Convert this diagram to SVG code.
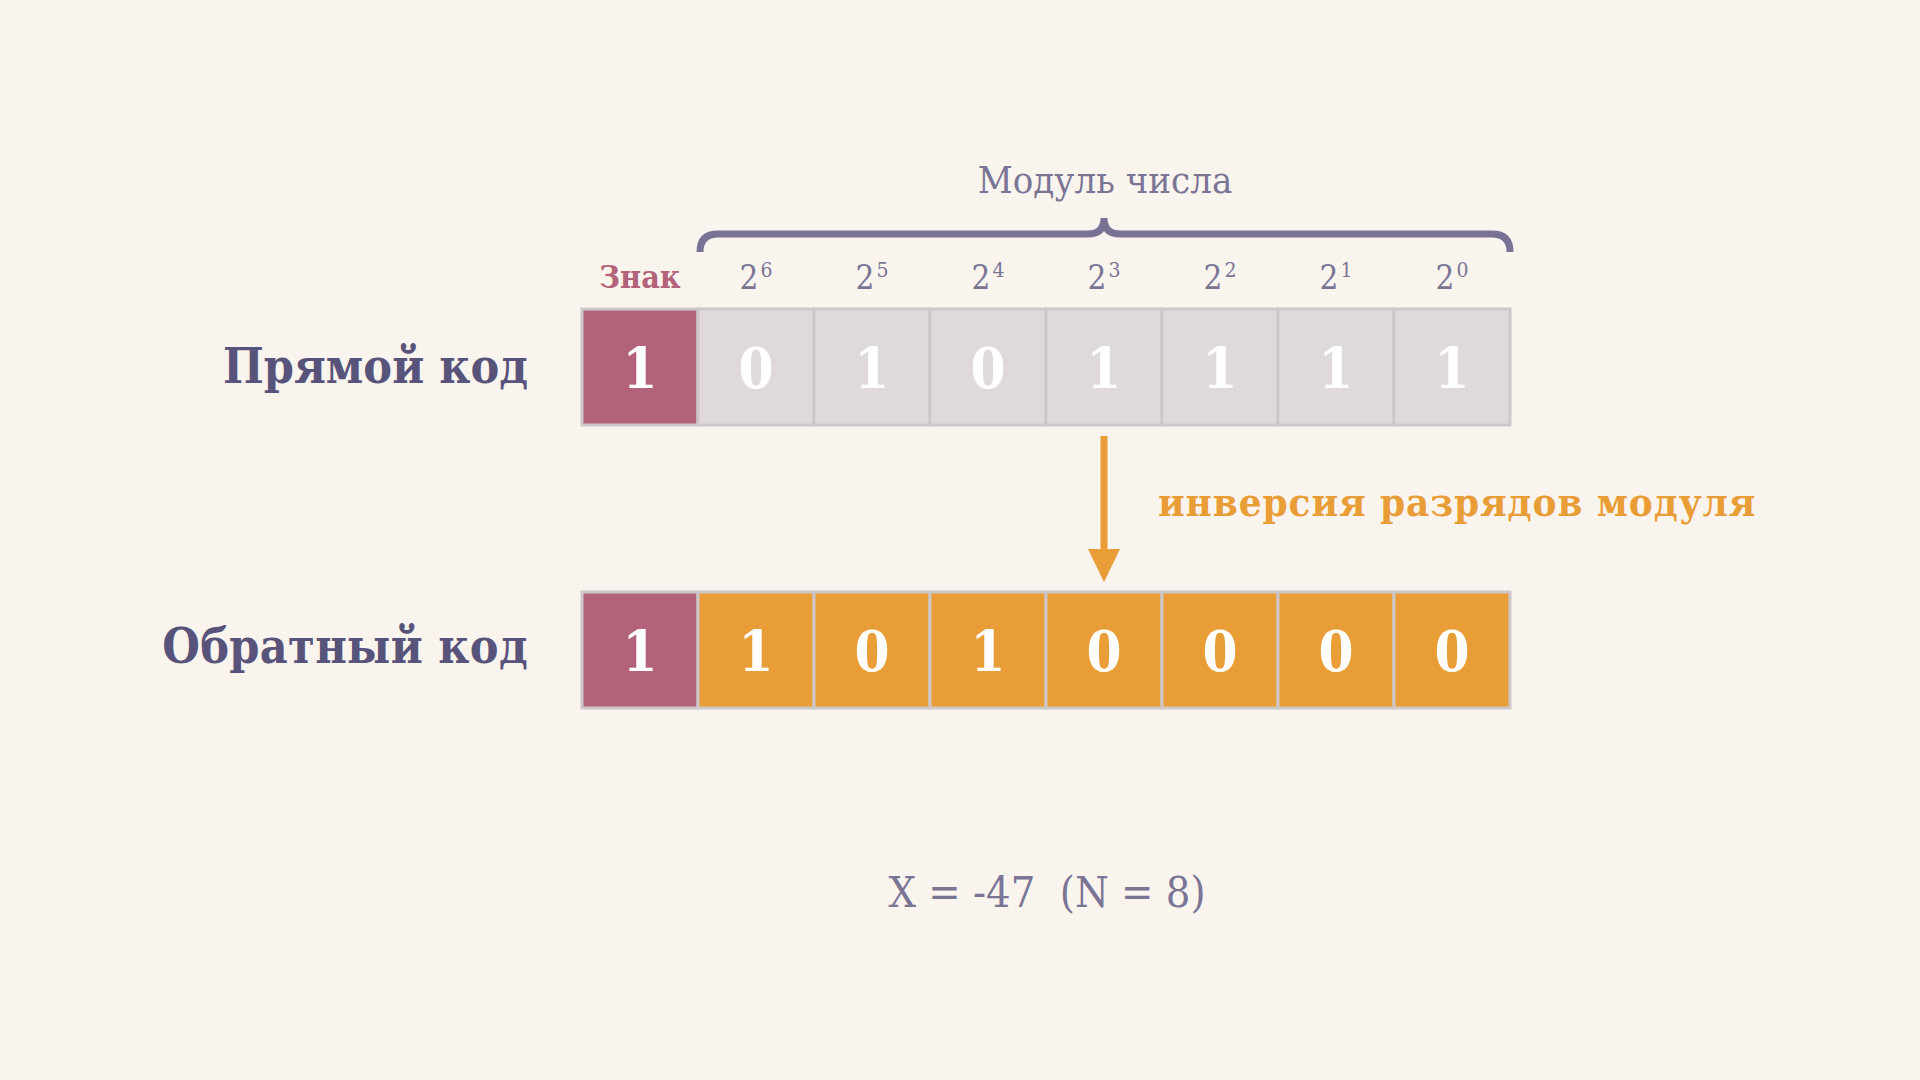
<svg xmlns="http://www.w3.org/2000/svg" width="1920" height="1080" viewBox="0 0 1920 1080">
<style>
text { font-family: "DejaVu Serif Condensed", "DejaVu Serif", "Liberation Serif", serif; font-stretch: condensed; }
.lbl { font-size: 48px; font-weight: bold; fill: #58537a; text-anchor: end; }
.dig { font-size: 56px; font-weight: bold; fill: #ffffff; text-anchor: middle; }
.pow { font-size: 33px; fill: #7a7595; text-anchor: middle; }
.sup { font-size: 21px; }
.sign { fill: #b36379; stroke: #ccc8ca; stroke-width: 3; }
.gray { fill: #dfdad9; stroke: #ccc8ca; stroke-width: 3; }
.orng { fill: #e99d36; stroke: #ccc8ca; stroke-width: 3; }
</style>
<rect x="0" y="0" width="1920" height="1080" fill="#faf4ee"/>

<g id="header">
  <text x="1105" y="193" font-size="38" fill="#7a7595" text-anchor="middle">Модуль числа</text>
  <path d="M700,252 Q700,234 718,234 L1088,234 Q1104,234 1104,218 Q1104,234 1120,234 L1492,234 Q1510,234 1510,252" fill="none" stroke="#787394" stroke-width="7"/>
  <text x="640" y="288" font-size="32" font-weight="bold" fill="#b36379" text-anchor="middle">Знак</text>
  <text class="pow" x="756" y="289">2<tspan class="sup" dx="2" dy="-12">6</tspan></text>
  <text class="pow" x="872" y="289">2<tspan class="sup" dx="2" dy="-12">5</tspan></text>
  <text class="pow" x="988" y="289">2<tspan class="sup" dx="2" dy="-12">4</tspan></text>
  <text class="pow" x="1104" y="289">2<tspan class="sup" dx="2" dy="-12">3</tspan></text>
  <text class="pow" x="1220" y="289">2<tspan class="sup" dx="2" dy="-12">2</tspan></text>
  <text class="pow" x="1336" y="289">2<tspan class="sup" dx="2" dy="-12">1</tspan></text>
  <text class="pow" x="1452" y="289">2<tspan class="sup" dx="2" dy="-12">0</tspan></text>
</g>

<g id="direct-code">
  <text class="lbl" x="528" y="383" font-size="47">Прямой код</text>
  <rect class="sign" x="582" y="309" width="116" height="116"/>
  <rect class="gray" x="698" y="309" width="116" height="116"/>
  <rect class="gray" x="814" y="309" width="116" height="116"/>
  <rect class="gray" x="930" y="309" width="116" height="116"/>
  <rect class="gray" x="1046" y="309" width="116" height="116"/>
  <rect class="gray" x="1162" y="309" width="116" height="116"/>
  <rect class="gray" x="1278" y="309" width="116" height="116"/>
  <rect class="gray" x="1394" y="309" width="116" height="116"/>
  <text class="dig" x="640" y="388">1</text>
  <text class="dig" x="756" y="388">0</text>
  <text class="dig" x="872" y="388">1</text>
  <text class="dig" x="988" y="388">0</text>
  <text class="dig" x="1104" y="388">1</text>
  <text class="dig" x="1220" y="388">1</text>
  <text class="dig" x="1336" y="388">1</text>
  <text class="dig" x="1452" y="388">1</text>
</g>

<g id="connectors">
  <line x1="1104" y1="436" x2="1104" y2="552" stroke="#e99d36" stroke-width="7"/>
  <polygon points="1088,549 1120,549 1104,582" fill="#e99d36"/>
  <text x="1158" y="516" font-size="40" font-weight="bold" fill="#e99d36" letter-spacing="0.9">инверсия разрядов модуля</text>
</g>

<g id="inverse-code">
  <text class="lbl" x="528" y="663" letter-spacing="0.3">Обратный код</text>
  <rect class="sign" x="582" y="592" width="116" height="116"/>
  <rect class="orng" x="698" y="592" width="116" height="116"/>
  <rect class="orng" x="814" y="592" width="116" height="116"/>
  <rect class="orng" x="930" y="592" width="116" height="116"/>
  <rect class="orng" x="1046" y="592" width="116" height="116"/>
  <rect class="orng" x="1162" y="592" width="116" height="116"/>
  <rect class="orng" x="1278" y="592" width="116" height="116"/>
  <rect class="orng" x="1394" y="592" width="116" height="116"/>
  <text class="dig" x="640" y="671">1</text>
  <text class="dig" x="756" y="671">1</text>
  <text class="dig" x="872" y="671">0</text>
  <text class="dig" x="988" y="671">1</text>
  <text class="dig" x="1104" y="671">0</text>
  <text class="dig" x="1220" y="671">0</text>
  <text class="dig" x="1336" y="671">0</text>
  <text class="dig" x="1452" y="671">0</text>
</g>

<g id="footer">
  <text x="1047" y="907" font-size="43" fill="#7a7595" text-anchor="middle" xml:space="preserve">X = -47  (N = 8)</text>
</g>
</svg>
